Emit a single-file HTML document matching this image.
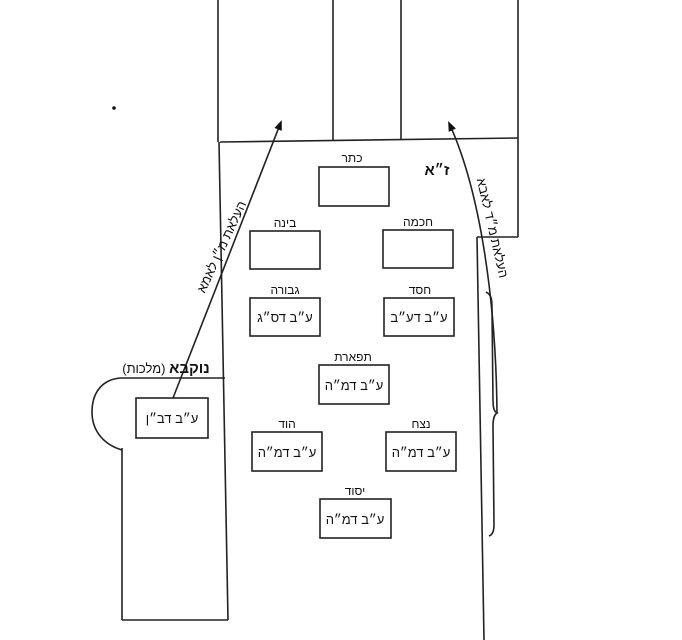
<!DOCTYPE html>
<html><head><meta charset="utf-8"><style>
body{margin:0;background:#fff;width:682px;height:640px;overflow:hidden}
svg{display:block}
text{font-family:"Liberation Sans","DejaVu Sans",sans-serif;fill:#111}
</style></head><body>
<svg width="682" height="640" viewBox="0 0 682 640" xmlns="http://www.w3.org/2000/svg">
<defs><marker id="ah" markerWidth="10" markerHeight="8" refX="8" refY="4" orient="auto" markerUnits="userSpaceOnUse"><path d="M0,0 L10,4 L0,8 z" fill="#111"/></marker></defs>
<g stroke="#222" stroke-width="1.6" fill="none">
<line x1="218" y1="0" x2="218" y2="142"/>
<line x1="333" y1="0" x2="333" y2="140"/>
<line x1="401" y1="0" x2="401" y2="139"/>
<line x1="518" y1="0" x2="518" y2="237"/>
<line x1="220" y1="142" x2="518" y2="138"/>
<line x1="219" y1="142" x2="228" y2="620"/>
<line x1="518" y1="237" x2="477" y2="237"/>
<line x1="477" y1="237" x2="484" y2="640"/>
<line x1="122" y1="620" x2="228" y2="620"/>
<line x1="120" y1="378" x2="225" y2="378"/>
<path d="M120,378 C100,380 92,395 92,412 C92,432 105,445 122,450"/>
<line x1="122" y1="448" x2="122" y2="620"/>
<path d="M486,292 C492,295 492,300 492,310 L493,400 C493,410 495,412 497,413 C495,414 493,418 493,426 L494,525 C494,532 492,535 489,536"/>
<rect x="319" y="167" width="70" height="39"/>
<rect x="383" y="230" width="70" height="38"/>
<rect x="250" y="231" width="70" height="38"/>
<rect x="250" y="298" width="70" height="38"/>
<rect x="384" y="298" width="70" height="38"/>
<rect x="319" y="365" width="70" height="39"/>
<rect x="252" y="432" width="70" height="39"/>
<rect x="386" y="432" width="70" height="39"/>
<rect x="320" y="499" width="71" height="39"/>
<rect x="136" y="398" width="72" height="40"/>
<line x1="173" y1="398" x2="281" y2="122" marker-end="url(#ah)"/>
<path d="M497,413 C496,300 480,190 449,123" marker-end="url(#ah)"/>
</g>
<circle cx="114" cy="108" r="1.8" fill="#111"/>
<g font-size="12" text-anchor="middle" direction="rtl">
<text x="352" y="162">כתר</text>
<text x="418" y="226">חכמה</text>
<text x="285" y="227">בינה</text>
<text x="285" y="294">גבורה</text>
<text x="420" y="294">חסד</text>
<text x="353" y="361">תפארת</text>
<text x="287" y="428">הוד</text>
<text x="421" y="428">נצח</text>
<text x="355" y="495">יסוד</text>
<g font-size="13">
<text x="285" y="322">ע״ב דס״ג</text>
<text x="419" y="322">ע״ב דע״ב</text>
<text x="354" y="390">ע״ב דמ״ה</text>
<text x="287" y="457">ע״ב דמ״ה</text>
<text x="421" y="457">ע״ב דמ״ה</text>
<text x="355" y="524">ע״ב דמ״ה</text>
<text x="172" y="423">ע״ב דב״ן</text>
</g>
<text x="437" y="175" font-size="15" font-weight="bold">ז״א</text>
<text x="166" y="373" font-size="13"><tspan font-size="15" font-weight="bold">נוקבא</tspan> (מלכות)</text>
<text transform="translate(222,247) rotate(-65)" y="4" font-size="13">העלאת מ״ן לאמא</text>
<text transform="translate(492,228) rotate(77)" y="4" font-size="13">העלאת מ״ד לאבא</text>
</g>
</svg>
</body></html>
